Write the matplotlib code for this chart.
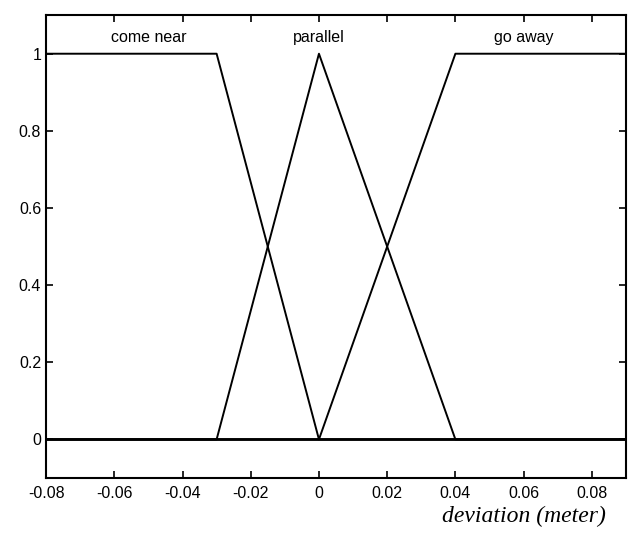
import matplotlib.pyplot as plt

# membership functions (breakpoints)
x_near = [-0.08, -0.03, 0.0, 0.09]
y_near = [1, 1, 0, 0]
x_par = [-0.08, -0.03, 0.0, 0.04, 0.09]
y_par = [0, 0, 1, 0, 0]
x_away = [-0.08, 0.0, 0.04, 0.09]
y_away = [0, 0, 1, 1]

rotulos = ['come near', 'parallel', 'go away']
pos_rotulos = [-0.05, 0.0, 0.06]

xticks = [-0.08, -0.06, -0.04, -0.02, 0, 0.02, 0.04, 0.06, 0.08]
xtick_labels = ['-0.08', '-0.06', '-0.04', '-0.02', '0', '0.02', '0.04', '0.06', '0.08']
yticks = [0, 0.2, 0.4, 0.6, 0.8, 1]
ytick_labels = ['0', '0.2', '0.4', '0.6', '0.8', '1']

plt.rcParams['font.family'] = ['Liberation Sans', 'DejaVu Sans']

fig = plt.figure(figsize=(6.31, 5.41), dpi=100)
ax = fig.add_axes([0.073, 0.1165, 0.919, 0.8555])

ax.plot(x_near, y_near, color='black', lw=1.4)
ax.plot(x_par, y_par, color='black', lw=1.4)
ax.plot(x_away, y_away, color='black', lw=1.4)
ax.axhline(0, color='black', lw=2)

for txt, xp in zip(rotulos, pos_rotulos):
    ax.text(xp, 1.043, txt, ha='center', va='center', fontsize=11.5)

ax.set_xlim(-0.08, 0.09)
ax.set_ylim(-0.1, 1.1)
ax.set_xticks(xticks)
ax.set_xticklabels(xtick_labels)
ax.set_yticks(yticks)
ax.set_yticklabels(ytick_labels)
ax.tick_params(direction='in', top=True, right=True, labelsize=11.5, length=5, width=1.2)
ax.tick_params(axis='x', pad=6)
for s in ax.spines.values():
    s.set_linewidth(1.5)

fig.text(0.83, 0.045, 'deviation (meter)', ha='center', va='center',
         fontsize=17, style='italic', family='Liberation Serif')

fig.savefig('out.png', dpi=100)
